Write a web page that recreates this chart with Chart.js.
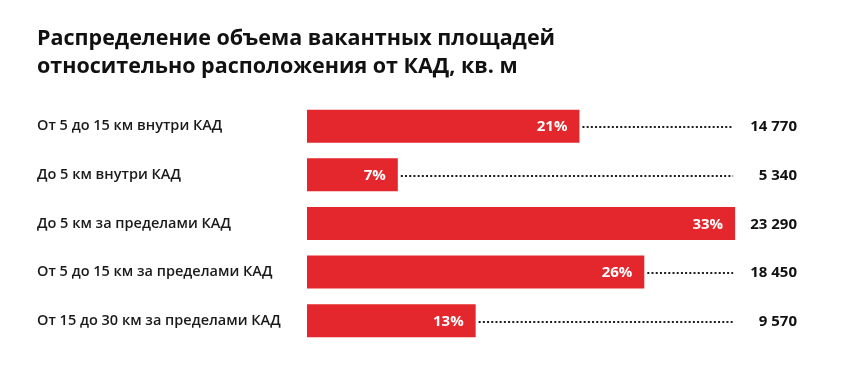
<!DOCTYPE html>
<html>
<head>
<meta charset="utf-8">
<script src="https://cdn.jsdelivr.net/npm/chart.js@4/dist/chart.umd.min.js"></script>
<style>
  html, body { margin: 0; padding: 0; background: #ffffff; }
  #wrap { width: 866px; height: 369px; position: relative; }
</style>
</head>
<body>
<div id="wrap"><canvas id="c" width="866" height="369"></canvas></div>
<script>
const titleLines = ['Распределение объема вакантных площадей', 'относительно расположения от КАД, кв. м'];
const categories = [
  'От 5 до 15 км внутри КАД',
  'До 5 км внутри КАД',
  'До 5 км за пределами КАД',
  'От 5 до 15 км за пределами КАД',
  'От 15 до 30 км за пределами КАД'
];
const shares = [21, 7, 33, 26, 13];
const volumes = [14770, 5340, 23290, 18450, 9570];

const RED = '#e4262d';
const FONT = "'Open Sans', 'Lato', sans-serif";

function fmt(v) { return String(v).replace(/\B(?=(\d{3})+(?!\d))/g, ' '); }

const labelsPlugin = {
  id: 'labelsPlugin',
  afterDatasetsDraw(chart) {
    const ctx = chart.ctx;
    const meta = chart.getDatasetMeta(0);
    const xs = chart.scales.x;
    const maxShare = Math.max(...shares);
    const dotEnd = xs.getPixelForValue(maxShare) - 2;
    const valRight = chart.chartArea.right - 3;
    ctx.save();
    meta.data.forEach((bar, i) => {
      const y = bar.y;
      ctx.font = "bold 15px " + FONT;
      ctx.fillStyle = '#ffffff';
      ctx.textAlign = 'right';
      ctx.textBaseline = 'middle';
      ctx.fillText(shares[i] + '%', bar.x - 12, y + 1);
      const start = bar.x + 3;
      if (dotEnd > start + 4) {
        ctx.beginPath();
        ctx.setLineDash([2, 2.2]);
        ctx.lineWidth = 2;
        ctx.strokeStyle = '#1e1e1e';
        ctx.moveTo(start, Math.round(y) + 1);
        ctx.lineTo(dotEnd, Math.round(y) + 1);
        ctx.stroke();
        ctx.setLineDash([]);
      }
      ctx.font = "bold 15px " + FONT;
      ctx.fillStyle = '#111111';
      ctx.textAlign = 'right';
      ctx.fillText(fmt(volumes[i]), valRight, y + 1);
    });
    ctx.restore();
  }
};

new Chart(document.getElementById('c'), {
  type: 'bar',
  data: {
    labels: categories,
    datasets: [{
      data: shares,
      backgroundColor: RED,
      borderWidth: 0,
      barPercentage: 0.68,
      categoryPercentage: 1
    }]
  },
  options: {
    indexAxis: 'y',
    responsive: false,
    animation: false,
    events: [],
    layout: { padding: { left: 37, right: 66, top: 0, bottom: 24 } },
    plugins: {
      legend: { display: false },
      tooltip: { enabled: false },
      title: {
        display: true,
        text: titleLines,
        align: 'start',
        color: '#111111',
        font: { family: FONT, size: 21.5, weight: 'bold', lineHeight: 1.3 },
        padding: { top: 25, bottom: 21 }
      }
    },
    scales: {
      x: {
        display: false,
        min: 0,
        max: 38
      },
      y: {
        grid: { display: false, drawTicks: false },
        border: { display: false },
        ticks: {
          crossAlign: 'far',
          padding: 0,
          color: '#1a1a1a',
          font: { family: FONT, size: 14.5, weight: '600' }
        },
        afterFit(scale) { scale.width = 270; }
      }
    }
  },
  plugins: [labelsPlugin]
});
</script>
</body>
</html>
